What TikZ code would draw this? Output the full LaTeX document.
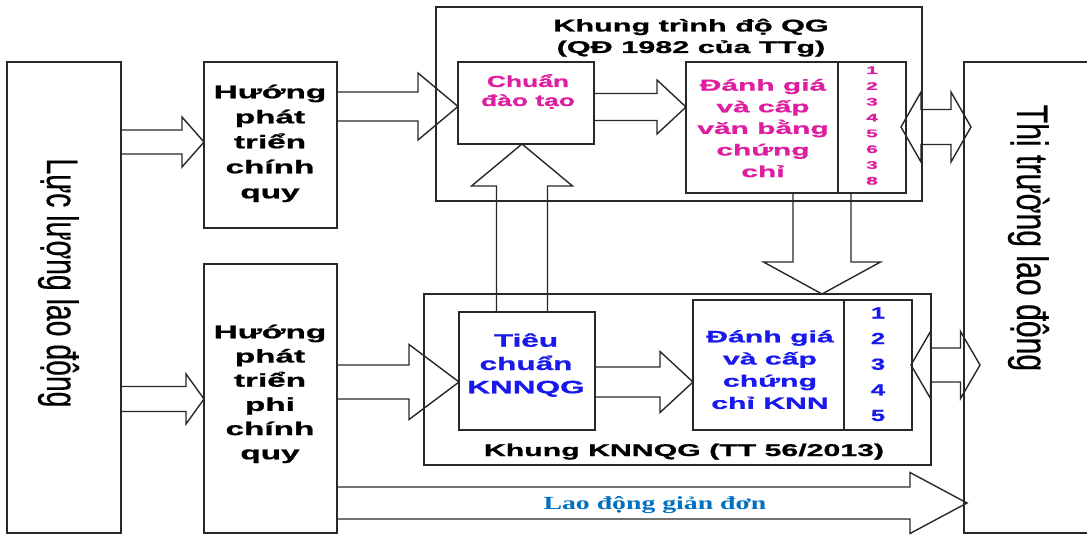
\documentclass[tikz,border=0pt]{standalone}
\usepackage{fontspec}
\usepackage{graphicx}
\usetikzlibrary{calc}
\setmainfont{Liberation Sans}
\newfontfamily\tms{Liberation Serif}
\newfontfamily\hb{Liberation Sans Bold}[FakeBold=0.8]
\newfontfamily\rg{Liberation Sans}[FakeBold=0.4]
\definecolor{mag}{RGB}{222,30,160}
\definecolor{blu}{RGB}{25,25,235}
\definecolor{lblue}{RGB}{0,112,192}
\definecolor{ln}{RGB}{40,40,40}
\newcommand\ml[2]{\vtop{\baselineskip=#1pt\lineskiplimit=-1000pt\lineskip=0pt\halign{\hfil##\hfil\cr#2\crcr}}}
\newcommand\fs[1]{\fontsize{#1}{#1}\selectfont}
% horizontal block arrow: from anchor, to anchor, y, shaft half, head half, head length, tip offset
\newcommand\harrow[7]{\draw[blk] ($(#1|-0,#3)+(0,-#4)$) -- ($(#2|-0,#3)+(#7-#6,-#4)$) -- ($(#2|-0,#3)+(#7-#6,-#5)$) -- ($(#2|-0,#3)+(#7,0)$) -- ($(#2|-0,#3)+(#7-#6,#5)$) -- ($(#2|-0,#3)+(#7-#6,#4)$) -- ($(#1|-0,#3)+(0,#4)$) -- cycle;}
% vertical block arrow: from anchor, to anchor, x, shaft half, head half, signed head length
\newcommand\varrow[6]{\draw[blk] ($(#3,0|-#1)+(-#4,0)$) -- ($(#3,0|-#2)+(-#4,#6)$) -- ($(#3,0|-#2)+(-#5,#6)$) -- (#3,0|-#2) -- ($(#3,0|-#2)+(#5,#6)$) -- ($(#3,0|-#2)+(#4,#6)$) -- ($(#3,0|-#1)+(#4,0)$) -- cycle;}
% double block arrow between two tip coordinates
\newcommand\darrow[5]{\draw[blk] (#1) -- ($(#1)+(#5,-#4)$) -- ($(#1)+(#5,-#3)$) -- ($(#2)+(-#5,-#3)$) -- ($(#2)+(-#5,-#4)$) -- (#2) -- ($(#2)+(-#5,#4)$) -- ($(#2)+(-#5,#3)$) -- ($(#1)+(#5,#3)$) -- ($(#1)+(#5,#4)$) -- cycle;}
\begin{document}
\begin{tikzpicture}[x=1pt,y=-1pt,
  box/.style={draw=ln,line width=1.4pt,inner sep=0,outer sep=0},
  blk/.style={draw=ln,line width=1.4pt,line join=miter},
  txt/.style={inner sep=0,outer sep=0,anchor=base}]
\useasboundingbox (0,0) rectangle (1087,535);
% boxes
\node[box,minimum width=114,minimum height=471] (L) at (64,297.5) {};
\node[box,minimum width=128,minimum height=471] (R) at (1028,297.5) {};
\node[box,minimum width=133,minimum height=166] (HC) at (270.5,145) {};
\node[box,minimum width=133,minimum height=269] (HP) at (270.5,398.5) {};
\node[box,minimum width=486,minimum height=194] (F1) at (679,104) {};
\node[box,minimum width=136,minimum height=82] (CD) at (526,103) {};
\node[box,minimum width=152,minimum height=131] (DG1) at (762,127.5) {};
\node[box,minimum width=68,minimum height=131] (N1) at (872,127.5) {};
\node[box,minimum width=507,minimum height=171] (F2) at (677.5,379.5) {};
\node[box,minimum width=136,minimum height=118] (TC) at (527,371) {};
\node[box,minimum width=151,minimum height=130] (DG2) at (768.5,365) {};
\node[box,minimum width=68,minimum height=130] (N2) at (878,365) {};
% texts
\node[txt,rotate=-90] (tL) at (47,283) {\scalebox{0.645}[1]{\fs{44}\rg Lực lượng lao động}};
\node[txt,rotate=-90] (tR) at (1017,238) {\scalebox{0.686}[1]{\fs{44}\rg Thị trường lao động}};
\node[txt] (tHC) at (270,98.3) {\scalebox{1.8}[1]{\fs{18.5}\hb\ml{25}{Hướng\cr phát\cr triển\cr chính\cr quy}}};
\node[txt] (tHP) at (270,338.3) {\scalebox{1.8}[1]{\fs{18.5}\hb\ml{24.2}{Hướng\cr phát\cr triển\cr phi\cr chính\cr quy}}};
\node[txt] (tF1) at (691,31.5) {\scalebox{1.8}[1]{\fs{17}\hb\ml{21.5}{Khung trình độ QG\cr (QĐ 1982 của TTg)}}};
\node[txt,text=mag] (tCD) at (528,87) {\scalebox{1.65}[1]{\fs{16}\hb\ml{19}{Chuẩn\cr đào tạo}}};
\node[txt,text=mag] (tDG1) at (763,90.7) {\scalebox{1.87}[1]{\fs{16}\hb\ml{21.6}{Đánh giá\cr và cấp\cr văn bằng\cr chứng\cr chỉ}}};
\node[txt,text=mag] (tN1) at (872,74) {\scalebox{1.9}[1]{\fs{11}\hb\ml{15.8}{1\cr 2\cr 3\cr 4\cr 5\cr 6\cr 3\cr 8}}};
\node[txt] (tF2) at (684,456) {\scalebox{1.78}[1]{\fs{17}\hb Khung KNNQG (TT 56/2013)}};
\node[txt,text=blu] (tTC) at (526,346.7) {\scalebox{1.75}[1]{\fs{18}\hb\ml{23.3}{Tiêu\cr chuẩn\cr KNNQG}}};
\node[txt,text=blu] (tDG2) at (770,342.3) {\scalebox{1.83}[1]{\fs{16.5}\hb\ml{22.2}{Đánh giá\cr và cấp\cr chứng\cr chỉ KNN}}};
\node[txt,text=blu] (tN2) at (878,318.5) {\scalebox{1.6}[1]{\fs{16}\hb\ml{25.6}{1\cr 2\cr 3\cr 4\cr 5}}};
\node[txt,text=lblue] (tLD) at (655,509) {\scalebox{1.5}[1]{\fs{18.5}\tms\bfseries Lao động giản đơn}};
% arrows
\harrow{L.east}{HC.west}{142}{12}{25}{22}{0}
\harrow{L.east}{HP.west}{399}{12.5}{25}{18}{0}
\harrow{HC.east}{CD.west}{106.5}{14.5}{33.5}{40}{0}
\harrow{HP.east}{TC.west}{382}{17}{37.5}{50}{0}
\harrow{CD.east}{DG1.west}{107}{13.5}{27}{29}{0}
\harrow{TC.east}{DG2.west}{382}{15}{30.5}{33}{0}
\harrow{HP.east}{R.west}{503}{16}{30.5}{57}{3}
\varrow{TC.north}{CD.south}{522}{25.5}{50.5}{42}
\varrow{DG1.south}{F2.north}{822}{29}{58.5}{-32}
\coordinate (d1l) at ($(N1.east|-0,127)+(-5,0)$);
\coordinate (d1r) at ($(R.west|-0,127)+(7,0)$);
\darrow{d1l}{d1r}{17.5}{35}{20}
\coordinate (d2l) at ($(N2.east|-0,365)+(-1,0)$);
\coordinate (d2r) at ($(R.west|-0,365)+(16,0)$);
\darrow{d2l}{d2r}{17}{33.5}{19.5}
\end{tikzpicture}
\end{document}
